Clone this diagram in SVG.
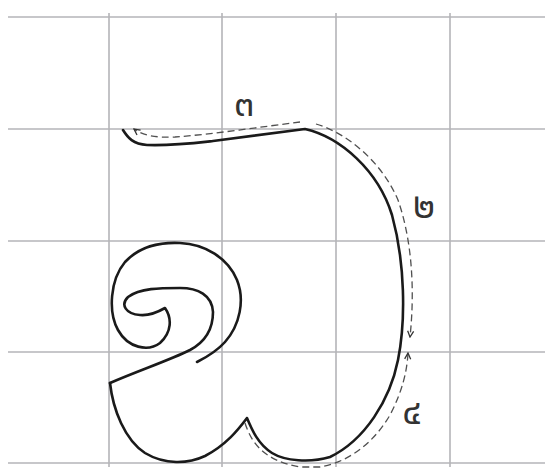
<svg xmlns="http://www.w3.org/2000/svg" width="545" height="471" viewBox="0 0 545 471">
<style>
.grid line{stroke:#b4b4b8;stroke-width:1.6}
.ink{fill:none;stroke:#1a1a1a;stroke-width:2.6;stroke-linecap:round;stroke-linejoin:round}
.dash{fill:none;stroke:#505050;stroke-width:1.3;stroke-dasharray:7 4}
.num{font-family:"Noto Sans Thai","Noto Sans","DejaVu Sans",sans-serif;font-size:36px;fill:#333;text-anchor:middle}
</style>
<defs>
<marker id="ah" viewBox="0 0 8 8" refX="7" refY="4" markerWidth="8" markerHeight="8" markerUnits="userSpaceOnUse" orient="auto">
<path d="M1,1 L7,4 L1,7" fill="none" stroke="#333" stroke-width="1.3"/>
</marker>
</defs>
<rect width="545" height="471" fill="#fff"/>
<g class="grid" id="grid">
<line x1="8" y1="17" x2="545" y2="17"/>
<line x1="8" y1="129" x2="545" y2="129"/>
<line x1="8" y1="241" x2="545" y2="241"/>
<line x1="8" y1="352" x2="545" y2="352"/>
<line x1="8" y1="463" x2="545" y2="463"/>
<line x1="109" y1="13" x2="109" y2="467"/>
<line x1="222" y1="13" x2="222" y2="467"/>
<line x1="336" y1="13" x2="336" y2="467"/>
<line x1="450" y1="13" x2="450" y2="467"/>
</g>
<g id="letter">
<path class="ink" d="M123,130 C128,138 133,144 147,145 C170,146 195,143 213,141 L305,129 C340,137 378,170 392,215 C405,262 406,320 398,360 C390,400 365,440 330,457 C310,463 285,461 272,453 C258,444 252,430 247,418 C238,430 226,445 205,456 C188,464 165,465 145,453 C125,440 113,410 110,383"/>
<path class="ink" d="M110,383 C140,370 170,360 190,350 C205,342 213,330 213,312 C212,295 198,288 180,288 C160,288 140,288 128,297 C120,305 126,314 140,315 C150,316 158,312 165,308 C172,318 172,332 160,343 C148,352 128,348 118,330 C108,312 110,280 125,262 C140,246 160,242 180,243 C205,244 228,258 237,280 C245,300 240,325 225,342 C217,351 207,357 197,362"/>
</g>
<g id="connectors">
<path class="dash" marker-end="url(#ah)" d="M300,122 C260,127 215,134 175,137 C155,138 142,135 134,129"/>
<path class="dash" marker-end="url(#ah)" d="M316,124 C347,133 382,162 398,200 C412,240 415,290 410,337"/>
<path class="dash" marker-end="url(#ah)" d="M245,423 C252,445 266,461 300,467 L320,467 C350,462 375,441 390,415 C402,392 407,372 408,353"/>
</g>
<g id="labels">
<text class="num" x="244" y="116">๓</text>
<text class="num" x="424" y="218">๒</text>
<text class="num" x="412" y="424">๔</text>
</g>
</svg>
